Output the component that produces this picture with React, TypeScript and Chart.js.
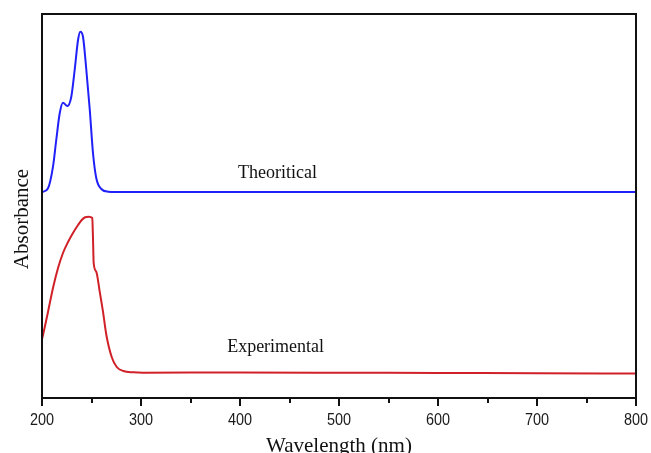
import React, { useEffect, useRef } from "react";
import { Chart, registerables } from "chart.js";

Chart.register(...registerables);

// Wavelength (nm) and absorbance (arbitrary units, offset traces)
const theoWavelength = [200, 201, 206.1, 211.1, 214.4, 217.9, 221.2, 225.6, 229.6, 233, 236.4, 238.7, 241.4, 244.7, 248.2, 251.5, 254.8, 259.9, 266.7, 275, 400, 600, 800];
const theoAbsorbance = [2.06, 2.063, 2.097, 2.313, 2.58, 2.847, 2.953, 2.92, 3.013, 3.28, 3.58, 3.663, 3.613, 3.29, 2.89, 2.45, 2.2, 2.09, 2.063, 2.06, 2.06, 2.06, 2.06];

const expWavelength = [200, 201, 206.1, 211.1, 216.2, 221.2, 226.3, 231.3, 236.4, 239.7, 243.1, 247.2, 250.8, 251.5, 252.2, 254.8, 258.3, 261.6, 265, 270.4, 275.5, 282.2, 292.3, 302, 400, 500, 600, 700, 800];
const expAbsorbance = [0.59, 0.63, 0.863, 1.10, 1.30, 1.45, 1.56, 1.65, 1.73, 1.775, 1.805, 1.813, 1.80, 1.60, 1.35, 1.263, 1.063, 0.863, 0.63, 0.41, 0.31, 0.27, 0.257, 0.253, 0.255, 0.253, 0.25, 0.248, 0.244];

const xMajorTicks = [200, 300, 400, 500, 600, 700, 800];
const xMinorTicks = [250, 350, 450, 550, 650, 750];

const seriesLabels = ["Theoritical", "Experimental"];
const labelWavelength = [398, 387];
const labelAbsorbance = [2.2, 0.46];

const xTitle = "Wavelength (nm)";
const yTitle = "Absorbance";

export default function App() {
  const ref = useRef<HTMLCanvasElement | null>(null);

  useEffect(() => {
    const canvas = ref.current;
    if (!canvas) return;

    const decor = {
      id: "decor",
      afterDatasetsDraw(chart: any) {
        const ctx = chart.ctx as CanvasRenderingContext2D;
        const { left, right, top, bottom } = chart.chartArea;
        const xs = chart.scales.x;
        const ys = chart.scales.y;
        ctx.save();
        // frame
        ctx.strokeStyle = "#111";
        ctx.lineWidth = 2;
        ctx.strokeRect(left, top, right - left, bottom - top);
        // ticks
        ctx.beginPath();
        xMajorTicks.forEach((v) => {
          const x = Math.round(xs.getPixelForValue(v));
          ctx.moveTo(x, bottom);
          ctx.lineTo(x, bottom + 8);
        });
        xMinorTicks.forEach((v) => {
          const x = Math.round(xs.getPixelForValue(v));
          ctx.moveTo(x, bottom);
          ctx.lineTo(x, bottom + 5);
        });
        ctx.stroke();
        // tick labels
        ctx.fillStyle = "#1a1a1a";
        ctx.font = '17px "Liberation Sans", Arial, sans-serif';
        ctx.textAlign = "center";
        ctx.textBaseline = "alphabetic";
        xMajorTicks.forEach((v) => {
          const x = xs.getPixelForValue(v);
          ctx.save();
          ctx.translate(x, 425);
          ctx.scale(0.85, 1);
          ctx.fillText(String(v), 0, 0);
          ctx.restore();
        });
        // axis titles
        ctx.fillStyle = "#111";
        ctx.font = '21px "Liberation Serif", "Times New Roman", serif';
        ctx.fillText(xTitle, (left + right) / 2, 452);
        ctx.save();
        ctx.translate(28, 219);
        ctx.rotate(-Math.PI / 2);
        ctx.fillText(yTitle, 0, 0);
        ctx.restore();
        // series labels
        ctx.font = '18px "Liberation Serif", "Times New Roman", serif';
        ctx.textAlign = "left";
        seriesLabels.forEach((t, i) => {
          ctx.fillText(t, xs.getPixelForValue(labelWavelength[i]), ys.getPixelForValue(labelAbsorbance[i]));
        });
        ctx.restore();
      },
    };

    const chart = new Chart(canvas, {
      type: "line",
      data: {
        datasets: [
          {
            label: seriesLabels[0],
            data: theoWavelength.map((x, i) => ({ x, y: theoAbsorbance[i] })),
            borderColor: "#2020f8",
            borderWidth: 2,
            pointRadius: 0,
            fill: false,
            cubicInterpolationMode: "monotone",
          },
          {
            label: seriesLabels[1],
            data: expWavelength.map((x, i) => ({ x, y: expAbsorbance[i] })),
            borderColor: "#d02028",
            borderWidth: 2,
            pointRadius: 0,
            fill: false,
            cubicInterpolationMode: "monotone",
          },
        ],
      },
      options: {
        responsive: false,
        animation: false,
        devicePixelRatio: 1,
        layout: { padding: { left: 42, right: 15, top: 14, bottom: 55 } },
        plugins: { legend: { display: false }, tooltip: { enabled: false } },
        scales: {
          x: { type: "linear", min: 200, max: 800, display: false },
          y: { type: "linear", min: 0, max: 3.84, display: false },
        },
      },
      plugins: [decor],
    });
    return () => chart.destroy();
  }, []);

  return (
    <div style={{ position: "absolute", left: 0, top: 0, width: 651, height: 453, background: "#fff" }}>
      <canvas ref={ref} width={651} height={453} />
    </div>
  );
}
